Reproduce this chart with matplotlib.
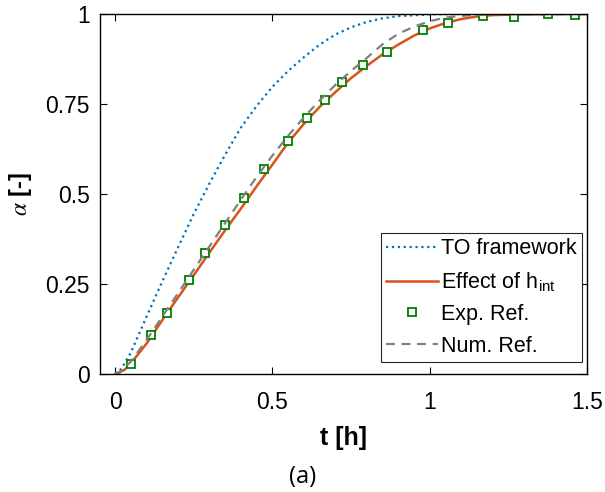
import matplotlib
matplotlib.use('Agg')
import matplotlib.pyplot as plt

plt.rcParams['font.family'] = ['Liberation Sans', 'DejaVu Sans']
plt.rcParams['mathtext.fontset'] = 'stix'

# TO framework (blue dotted)
t_to = [0, 0.02, 0.05, 0.1, 0.15, 0.2, 0.25, 0.3, 0.35, 0.4, 0.45, 0.5, 0.55,
        0.6, 0.65, 0.7, 0.75, 0.8, 0.85, 0.9, 1.0, 1.1, 1.5]
a_to = [0, 0.015, 0.06, 0.16, 0.258, 0.352, 0.445, 0.53, 0.61, 0.685, 0.745,
        0.798, 0.842, 0.88, 0.915, 0.943, 0.963, 0.978, 0.988, 0.994, 0.999,
        1.0, 1.0]

# effect of h_int (orange)
t_h = [0, 0.03, 0.05, 0.1, 0.15, 0.2, 0.25, 0.3, 0.35, 0.4, 0.45, 0.5, 0.55,
       0.6, 0.65, 0.7, 0.75, 0.8, 0.85, 0.9, 0.95, 1.0, 1.05, 1.1, 1.15, 1.2,
       1.3, 1.4, 1.5]
a_h = [0, 0.012, 0.03, 0.085, 0.15, 0.213, 0.275, 0.338, 0.4, 0.46, 0.522,
       0.582, 0.643, 0.695, 0.742, 0.783, 0.822, 0.856, 0.888, 0.915, 0.94,
       0.96, 0.975, 0.986, 0.993, 0.997, 0.999, 1.0, 1.0]

# experimental reference
t_exp = [0.051, 0.115, 0.166, 0.235, 0.286, 0.350, 0.411, 0.472, 0.548, 0.609,
         0.666, 0.721, 0.789, 0.863, 0.980, 1.058, 1.168, 1.269, 1.377, 1.463]
a_exp = [0.027, 0.108, 0.170, 0.260, 0.335, 0.413, 0.490, 0.569, 0.647, 0.710,
         0.761, 0.811, 0.859, 0.894, 0.955, 0.976, 0.994, 0.992, 0.999, 0.996]

# numerical reference (gray dashed)
t_num = [0, 0.01, 0.05, 0.1, 0.15, 0.2, 0.25, 0.3, 0.35, 0.4, 0.45, 0.5, 0.55,
         0.6, 0.65, 0.7, 0.75, 0.8, 0.85, 0.9, 0.95, 1.0, 1.05, 1.1, 1.2, 1.5]
a_num = [0, 0.0, 0.035, 0.095, 0.16, 0.225, 0.29, 0.355, 0.42, 0.485, 0.548,
         0.607, 0.662, 0.713, 0.76, 0.803, 0.842, 0.878, 0.916, 0.945, 0.965,
         0.98, 0.99, 0.995, 0.999, 1.0]

fig = plt.figure(figsize=(6.05, 4.92), dpi=100)
ax = fig.add_axes([99.5 / 605, 118 / 492, 487.5 / 605, 360 / 492])

ax.plot(t_to, a_to, ':', color='#0072BD', lw=1.6, label='TO framework')
ax.plot(t_h, a_h, '-', color='#D95319', lw=1.8,
        label=r'Effect of h$_\mathregular{int}$')
ax.plot(t_exp, a_exp, 's', color='#008000', mfc='white', ms=6, mew=1.3,
        label='Exp. Ref.')
ax.plot(t_num, a_num, '--', color='#808080', lw=1.6, dashes=(4, 3),
        label='Num. Ref.')

ax.set_xlim(-0.05, 1.5)
ax.set_ylim(0, 1)
ax.set_xticks([0, 0.5, 1, 1.5])
ax.set_xticklabels(['0', '0.5', '1', '1.5'])
ax.set_yticks([0, 0.25, 0.5, 0.75, 1])
ax.set_yticklabels(['0', '0.25', '0.5', '0.75', '1'])
ax.tick_params(direction='in', top=True, right=True, length=5, width=0.8,
               labelsize=16.5)
ax.tick_params(axis='x', pad=12)
ax.tick_params(axis='y', pad=7)
for s in ax.spines.values():
    s.set_linewidth(1.0)

ax.set_xlabel('t [h]', fontsize=18, fontweight='bold', labelpad=9)
ax.set_ylabel(r'$\alpha$ [-]', fontsize=17, fontweight='bold', labelpad=8)

leg = ax.legend(loc='lower right', bbox_to_anchor=(0.99, 0.033),
                fontsize=15.5, numpoints=1, handlelength=2.4,
                handletextpad=0.15, borderpad=0.25, labelspacing=0.5,
                borderaxespad=0, fancybox=False, framealpha=1)
leg.get_frame().set_edgecolor('#262626')
leg.get_frame().set_linewidth(0.8)

fig.text(303 / 605, 1 - 477 / 492, '(a)', fontsize=17, family='Open Sans',
         ha='center', va='center')

fig.savefig('out.png', dpi=100)
